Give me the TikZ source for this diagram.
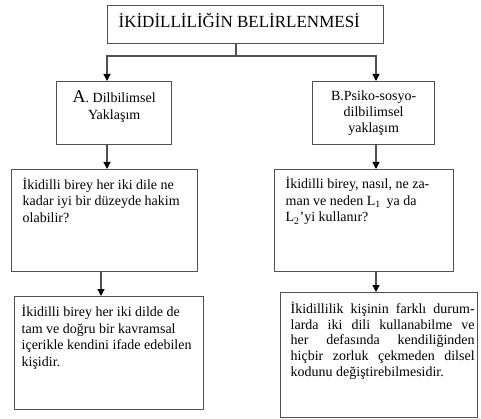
\documentclass[tikz,border=0pt]{standalone}
\usepackage{fontspec}
\setmainfont{Liberation Serif}
\usetikzlibrary{arrows.meta,positioning}
\definecolor{boxgray}{RGB}{80,80,80}
\hbadness=10000
% box content: width, height, first baseline, layout, text
\newcommand{\boxtext}[5]{\parbox[c][#2][t]{#1}{#4\rule{0pt}{#3}#5}}
\newcommand{\padleft}[1]{\raggedright\leftskip=#1\relax}

\begin{document}
\begin{tikzpicture}[x=1pt,y=-1pt,
  box/.style={draw=boxgray, line width=1.3pt, inner sep=0pt, anchor=north west},
  link/.style={boxgray, line width=1.2pt},
  arr/.style={link, -{Triangle[length=7pt,width=7pt,color=black]}}]
\useasboundingbox (0,0) rectangle (481,419);
% Title
\node[box] (title) at (107,5) {\boxtext{276pt}{38pt}{21.7pt}{\padleft{11pt}\fontsize{17}{20}\selectfont}{İKİDİLLİLİĞİN BELİRLENMESİ}};
% Two approaches
\node[box] (dilbil) at (56,81) {\boxtext{115pt}{63pt}{20.7pt}{\centering\fontsize{14}{17.5}\selectfont}{{\fontsize{18}{17.5}\selectfont A}. Dilbilimsel\\Yaklaşım}};
\node[box] (psiko) at (312,81) {\boxtext{122pt}{63pt}{19pt}{\centering\fontsize{14}{15.8}\selectfont}{B.Psiko-sosyo-\\dilbilimsel\\yaklaşım}};
% Questions
\node[box] (soruA) at (11,169) {\boxtext{186pt}{102pt}{19.5pt}{\padleft{11pt}\fontsize{14}{16.7}\selectfont}{İkidilli birey her iki dile ne\\kadar iyi bir düzeyde hakim\\olabilir?}};
\node[box] (soruB) at (274,169) {\boxtext{179pt}{102pt}{18.8pt}{\padleft{11pt}\fontsize{14}{16.7}\selectfont}{İkidilli birey, nasıl, ne za-\\man ve neden L\textsubscript{1}\, ya da\\L\textsubscript{2}'yi kullanır?}};
% Definitions
\node[box] (tanimA) at (14,296) {\boxtext{189pt}{113pt}{19.7pt}{\padleft{7pt}\fontsize{14}{16.7}\selectfont}{İkidilli birey her iki dilde de\\tam ve doğru bir kavramsal\\içerikle kendini ifade edebilen\\kişidir.}};
\node[box] (tanimB) at (280,292) {\boxtext{197pt}{125pt}{20.7pt}{\leftskip=10pt\rightskip=3pt\hyphenpenalty=10000\fontsize{14}{15.7}\selectfont}{İkidillilik kişinin farklı durum-\linebreak larda iki dili kullanabilme ve\linebreak her defasında kendiliğinden\linebreak hiçbir zorluk çekmeden dilsel\linebreak kodunu değiştirebilmesidir.}};
% Connectors
\coordinate (split) at (236,56);
\coordinate (lsplit) at (107,56);
\coordinate (rsplit) at (376,56);
\coordinate (ldown) at (101,280);
\draw[link] (title.south -| split) -- (split);
\draw[arr] (split) -- (lsplit) -- (lsplit |- dilbil.north);
\draw[arr] (split) -- (rsplit) -- (rsplit |- psiko.north);
\draw[arr] (lsplit |- dilbil.south) -- (lsplit |- soruA.north);
\draw[arr] (rsplit |- psiko.south) -- (rsplit |- soruB.north);
\draw[arr] (ldown |- soruA.south) -- (ldown |- tanimA.north);
\draw[arr] (rsplit |- soruB.south) -- (rsplit |- tanimB.north);
\end{tikzpicture}
\end{document}
